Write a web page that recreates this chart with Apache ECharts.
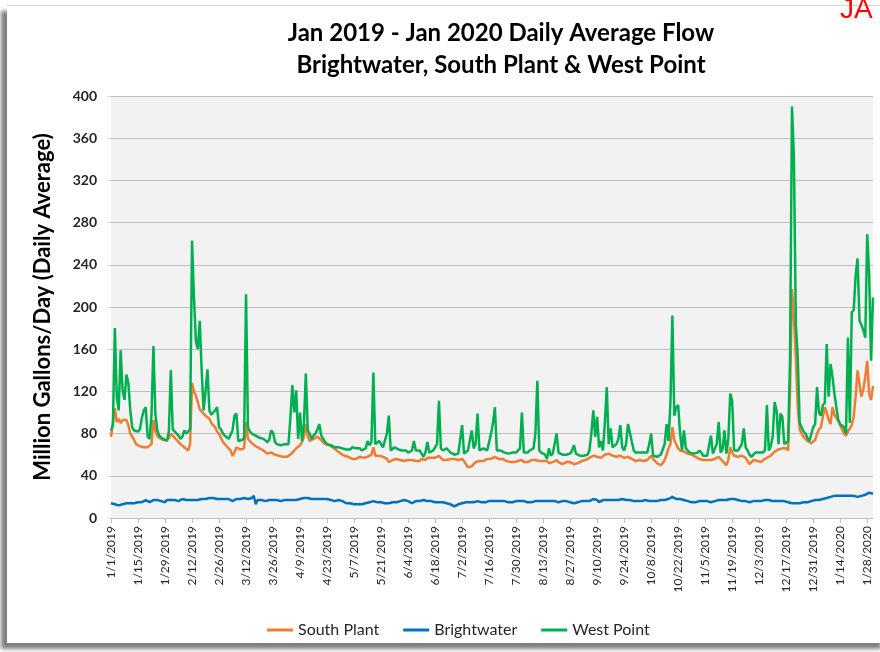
<!DOCTYPE html>
<html>
<head>
<meta charset="utf-8">
<script src="https://cdn.jsdelivr.net/npm/echarts@6/dist/echarts.min.js"></script>
<style>
html,body{margin:0;padding:0;background:#fff;width:880px;height:652px;overflow:hidden;}
#frame{position:absolute;left:7px;top:5px;width:880px;height:637px;background:#fff;border-top:1px solid #d6d6d6;box-shadow:-6px 6px 4px rgba(0,0,0,0.5);}
#chart{position:absolute;left:0;top:0;width:880px;height:652px;}
</style>
</head>
<body>
<div id="frame"></div>
<div id="chart"></div>
<script>
// Daily values, 1/1/2019 .. 1/31/2020 (one row per month)
const southPlant = [
  77,78,104,91,94,90,93,92,93,88,80,77,74,70,69,68,67,67,67,67,67,70,93,83,78,76,75,74,74,74,76,
  80,78,76,74,72,70,69,67,66,64,70,128,120,116,110,103,101,99,97,96,94,90,88,86,82,80,76,72,
  70,68,66,64,59,62,67,66,65,64,66,91,75,73,71,70,68,67,66,65,64,63,61,62,62,61,60,60,59,59,58,
  59,58,58,60,62,64,66,67,69,72,77,89,78,73,74,75,76,77,77,74,72,70,70,69,69,67,66,64,63,61,
  60,59,58,58,57,56,55,56,57,58,58,57,58,58,58,60,67,59,58,59,58,58,57,56,53,54,55,56,56,55,55,
  55,54,55,55,54,55,56,54,53,54,56,56,55,57,56,57,56,57,58,59,57,55,54,55,55,56,55,56,55,55,
  56,56,54,51,48,47,49,51,53,54,54,55,54,55,56,55,56,57,58,57,56,56,56,55,54,53,53,54,53,54,54,
  54,55,53,54,53,54,55,54,55,56,54,53,54,53,54,52,51,53,54,55,53,52,51,52,53,52,53,52,51,50,52,
  53,54,55,55,56,57,58,59,59,58,57,57,58,60,61,61,60,59,58,58,59,59,58,57,58,58,57,56,55,54,
  55,55,55,54,54,55,57,59,56,54,52,51,50,52,55,60,66,70,86,74,70,66,64,63,63,62,61,60,60,59,58,
  57,56,56,55,55,55,55,55,55,56,57,58,57,54,52,50,55,67,62,59,58,58,58,59,59,57,54,51,53,55,
  55,54,53,53,55,56,57,58,59,61,63,64,65,66,66,67,66,64,121,217,190,152,105,84,80,77,75,73,72,71,72,
  74,80,84,86,96,105,100,93,89,105,98,95,92,88,84,80,78,82,85,88,96,115,140,127,115,122,134,149,118,112,125
];
const brightwater = [
  14,14,13,13,12,12,13,13,14,14,14,14,14,15,15,15,15,16,17,16,15,16,17,16,17,18,16,17,15,17,17,
  17,18,17,17,16,17,18,17,17,17,17,18,17,18,17,17,18,17,18,18,19,18,19,18,18,17,18,18,
  18,17,18,17,16,17,18,18,18,18,19,19,18,18,19,21,13,17,18,17,17,16,17,17,17,17,16,17,17,16,17,
  17,17,17,16,17,18,17,18,18,19,19,20,19,18,18,18,18,18,18,18,18,17,18,18,17,17,16,17,17,16,
  16,15,14,14,14,14,13,13,13,13,13,13,14,14,15,15,16,16,15,15,15,15,14,14,14,15,15,15,15,16,16,
  17,17,16,16,15,14,15,16,16,16,16,17,16,16,16,16,15,15,15,15,15,15,14,14,14,13,12,11,11,13,
  14,14,15,15,15,15,15,15,16,16,15,15,15,15,16,16,16,16,16,16,16,16,16,16,15,15,15,15,15,16,16,
  16,16,16,15,15,15,15,15,16,16,16,16,16,16,16,16,16,16,16,16,15,16,16,16,16,15,15,15,14,14,15,
  15,16,16,16,16,16,17,18,19,17,15,16,17,18,17,17,17,17,17,17,17,18,18,17,17,17,17,16,16,16,
  16,16,16,16,17,17,16,16,16,16,16,17,17,17,17,18,18,19,20,19,18,18,18,17,17,17,16,16,15,15,15,
  15,16,16,16,16,16,15,15,16,16,16,17,17,17,17,17,17,18,18,18,18,17,17,16,16,16,15,15,16,16,
  16,16,16,16,16,17,17,17,17,16,16,16,16,16,16,16,16,15,15,14,14,14,14,14,15,15,15,15,15,16,16,
  17,17,17,18,18,19,19,20,20,20,21,20,21,21,21,21,21,21,21,22,21,21,20,21,21,21,22,23,24,24,23
];
const westPoint = [
  83,88,180,115,102,159,121,112,136,128,102,86,83,82,82,84,95,102,105,77,75,98,163,99,83,78,77,75,74,73,82,
  140,84,83,80,78,75,77,83,80,82,84,263,209,168,160,187,140,102,120,141,102,98,100,102,105,86,84,80,
  78,77,75,74,83,97,99,73,72,74,76,212,86,82,80,79,78,77,76,77,75,75,72,74,83,81,72,70,69,69,68,
  70,69,70,95,126,100,121,75,100,73,89,137,83,80,75,78,80,84,89,78,75,72,70,70,69,68,67,66,67,67,
  66,67,65,64,65,67,68,66,67,66,64,65,66,73,69,72,138,70,71,73,70,67,68,80,97,64,65,67,66,65,66,
  64,63,64,62,62,64,73,64,65,64,63,58,62,72,62,63,64,64,70,111,66,64,65,66,64,62,61,60,59,61,
  62,88,61,62,64,63,83,66,70,99,64,65,66,66,64,65,80,90,105,64,63,64,64,62,62,61,61,62,63,62,64,
  66,100,62,63,62,64,64,66,80,130,64,62,61,60,56,66,59,61,61,80,62,61,60,59,60,61,61,64,69,61,60,
  59,58,59,59,60,64,80,102,77,96,67,73,64,90,124,70,85,67,68,70,75,88,67,64,70,89,89,72,64,62,
  62,62,61,62,61,62,70,80,59,59,58,59,60,61,70,89,73,110,192,97,105,107,80,64,83,66,64,62,62,61,61,
  62,64,62,59,60,59,60,78,61,62,70,91,62,65,83,61,75,118,111,64,63,64,64,70,85,67,64,60,58,60,
  62,61,62,61,62,64,107,64,68,77,110,102,70,99,96,70,70,73,152,390,342,184,152,90,86,82,80,76,73,72,86,
  89,124,100,97,107,109,165,115,146,134,118,105,93,89,88,86,80,171,90,195,197,230,246,187,183,178,171,269,231,149,209
];
const seriesNames = ['South Plant', 'Brightwater', 'West Point'];
const seriesColors = ['#ED7D31', '#0070C0', '#00B050'];
const yTicks = { min: 0, max: 400, interval: 40 };

// Category labels: one per day starting 1/1/2019
const categories = [];
const start = new Date(2019, 0, 1);
for (let i = 0; i < southPlant.length; i++) {
  const d = new Date(start.getFullYear(), start.getMonth(), start.getDate() + i);
  categories.push((d.getMonth() + 1) + '/' + d.getDate() + '/' + d.getFullYear());
}

const FONT = 'Lato';
const chart = echarts.init(document.getElementById('chart'), null, { renderer: 'canvas' });
const dataSets = [southPlant, brightwater, westPoint];

chart.setOption({
  animation: false,
  backgroundColor: 'transparent',
  title: {
    text: 'Jan 2019 - Jan 2020 Daily Average Flow\nBrightwater, South Plant & West Point',
    left: 496,
    top: 12,
    textAlign: 'center',
    textStyle: { fontFamily: FONT, fontWeight: 'bold', fontSize: 24, lineHeight: 32, color: '#000' }
  },
  graphic: [{
    type: 'text',
    left: 840,
    top: -4,
    style: { text: 'JA', font: '28px "Liberation Sans"', fill: '#ff0000' }
  }],
  legend: {
    data: seriesNames,
    top: 617,
    left: 262,
    icon: 'rect',
    itemWidth: 26,
    itemHeight: 3,
    itemGap: 24,
    textStyle: { fontFamily: FONT, fontSize: 16, color: '#262626' }
  },
  grid: {
    left: 111, right: 7, top: 96, bottom: 134,
    show: true, backgroundColor: '#f2f2f2', borderWidth: 0,
    containLabel: false
  },
  xAxis: {
    type: 'category',
    data: categories,
    boundaryGap: false,
    axisLine: { show: true, lineStyle: { color: '#bfbfbf', width: 1 } },
    axisTick: { show: true, interval: 13, length: 5, lineStyle: { color: '#bfbfbf' } },
    axisLabel: { interval: 13, rotate: 90, margin: 8, fontFamily: FONT, fontSize: 12, color: '#262626' },
    splitLine: { show: false }
  },
  yAxis: {
    type: 'value',
    min: yTicks.min, max: yTicks.max, interval: yTicks.interval,
    name: 'Million Gallons/Day (Daily Average)',
    nameLocation: 'middle',
    nameGap: 57,
    nameTextStyle: { fontFamily: FONT, fontWeight: 'bold', fontSize: 22, color: '#000' },
    axisLine: { show: false },
    axisTick: { show: true, length: 4, lineStyle: { color: '#d9d9d9' } },
    axisLabel: { margin: 14, fontFamily: FONT, fontWeight: 'bold', fontSize: 14, color: '#262626' },
    splitLine: { show: true, lineStyle: { color: '#bfbfbf', width: 1 } }
  },
  series: seriesNames.map((name, i) => ({
    name: name,
    type: 'line',
    data: dataSets[i],
    symbol: 'none',
    showSymbol: false,
    color: seriesColors[i],
    lineStyle: { width: 2.5, color: seriesColors[i] }
  }))
});
</script>
</body>
</html>
